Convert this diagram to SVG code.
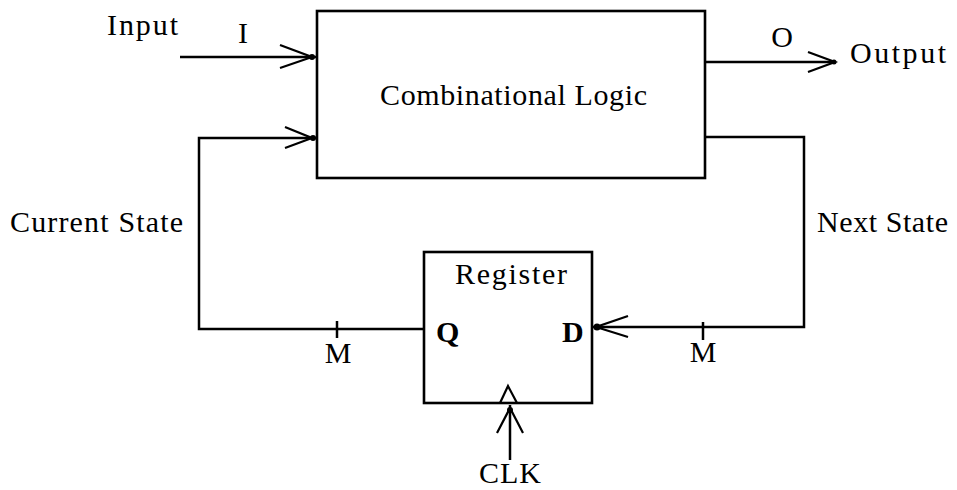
<svg xmlns="http://www.w3.org/2000/svg" width="957" height="490" viewBox="0 0 957 490">
<style>
.box{fill:none;stroke:#000;stroke-width:2.6}
.wire{fill:none;stroke:#000;stroke-width:2.5}
.head{fill:none;stroke:#000;stroke-width:2.2}
.dot{fill:#000}
text{font-family:"Liberation Serif","Times New Roman",serif;font-size:30px;fill:#000}
.b{font-weight:bold}
</style>
<rect width="957" height="490" fill="#fff"/>
<g id="combinational-logic">
<rect class="box" x="317" y="11" width="388" height="167"/>
<text x="380" y="105" textLength="267" lengthAdjust="spacing">Combinational Logic</text>
</g>
<g id="register">
<rect class="box" x="424" y="252" width="168" height="151"/>
<text x="455" y="284" textLength="112" lengthAdjust="spacing">Register</text>
<text class="b" x="436" y="342" font-size="28">Q</text>
<text class="b" x="562" y="342" font-size="28">D</text>
<path class="head" d="M500,403 L508,386 L517,403"/>
</g>
<g id="labels">
<text x="107" y="35" textLength="71" lengthAdjust="spacing">Input</text>
<text x="243" y="43" text-anchor="middle">I</text>
<text x="782" y="47" text-anchor="middle">O</text>
<text x="850" y="63" textLength="96" lengthAdjust="spacing">Output</text>
<text x="10" y="232" textLength="173" lengthAdjust="spacing">Current State</text>
<text x="817" y="232" textLength="131" lengthAdjust="spacing">Next State</text>
<text x="338" y="363" text-anchor="middle" font-size="31">M</text>
<text x="703" y="362" text-anchor="middle" font-size="31">M</text>
<text x="510" y="483" text-anchor="middle" textLength="62" lengthAdjust="spacing">CLK</text>
</g>
<g id="connectors">
<path class="wire" d="M180,57 H317"/>
<path class="head" d="M280,45 L312,57 L280,68"/>
<circle class="dot" cx="312" cy="57" r="3"/>
<path class="wire" d="M705,62 H835"/>
<path class="head" d="M808,52 L835,62 L808,72"/>
<circle class="dot" cx="834" cy="62" r="2.5"/>
<path class="wire" d="M424,329 H199 V138 H317"/>
<path class="head" d="M285,127 L312,138 L285,148"/>
<circle class="dot" cx="313" cy="138" r="3"/>
<path class="wire" d="M337,321 V338" stroke-width="3"/>
<path class="wire" d="M705,137 H804 V327 H592"/>
<path class="head" d="M628,316 L596,327 L628,337"/>
<circle class="dot" cx="597" cy="327" r="3.5"/>
<path class="wire" d="M703,322 V340" stroke-width="3"/>
<path class="wire" d="M510,460 V405"/>
<path class="head" d="M497,433 L510,408 L523,433"/>
<circle class="dot" cx="510" cy="410" r="3"/>
</g>
</svg>
